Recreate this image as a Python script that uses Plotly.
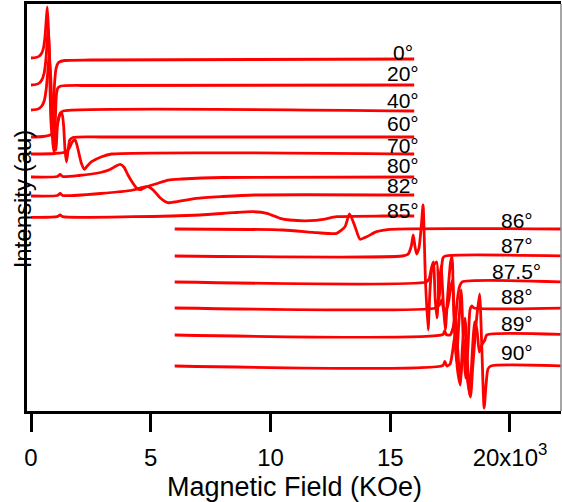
import plotly.graph_objects as go

# ---- data (field in units of 10^3 Oe, intensity in arbitrary units) ----
angles = ["0°", "20°", "40°", "60°", "70°", "80°", "82°", "85°",
          "86°", "87°", "87.5°", "88°", "89°", "90°"]

# vertical stacking offsets of each spectrum (au)
offsets = [352, 325.5, 300, 274, 257, 234, 215.5, 194.5,
           182, 155, 129, 103, 76.5, 45]

field_0 = [0, 0.2, 0.35, 0.45, 0.52, 0.58, 0.63, 0.68, 0.73, 0.78, 0.83, 0.88, 0.93, 0.98, 1.05, 1.15, 1.4, 2.5, 16]
sig_0 = [1, 1.5, 3, 6, 11, 21, 37, 52, 29, -16, -61, -78, -61, -26, -9, -3.5, -1.5, -1, 0]

field_20 = [0, 0.2, 0.35, 0.45, 0.55, 0.62, 0.68, 0.72, 0.77, 0.84, 0.92, 0.97, 1.01, 1.06, 1.12, 1.25, 2.5, 16]
sig_20 = [0.5, 1, 2.5, 5.5, 12.5, 25.5, 45.5, 57.5, 35.5, -24.5, -59.5, -66.5, -39.5, -9.5, -2.5, -0.5, 0, 0.5]

field_40 = [0, 0.3, 0.45, 0.55, 0.63, 0.7, 0.76, 0.82, 0.9, 0.98, 1.04, 1.09, 1.15, 1.22, 1.35, 16]
sig_40 = [1, 2, 5, 10, 21, 39, 56, 36, -9, -37, -39, -19, -7, -2, 0, 0]

field_60 = [0, 0.5, 0.8, 0.95, 1.1, 1.2, 1.29, 1.36, 1.42, 1.48, 1.54, 1.62, 1.75, 3, 16]
sig_60 = [0, 0.5, 2, 5, 13, 22, 24, 12, -13, -25, -15, -3, -0.5, 0, 0]

field_70 = [0, 1, 1.45, 1.6, 1.72, 1.84, 1.95, 2.1, 2.23, 2.35, 2.53, 2.95, 3.37, 16]
sig_70 = [0, 0.5, 2, 6, 12, 14.5, 6, -9, -15.3, -12, -7.7, -2.7, 0, 0]

field_80 = [0, 1.1, 1.22, 1.32, 2, 2.9, 3.3, 3.55, 3.72, 3.88, 4.05, 4.25, 4.45, 4.6, 4.8, 5.2, 5.73, 6.3, 8, 16]
sig_80 = [0, 0.5, 2.5, 0.5, 1.5, 4.5, 7.5, 11, 12.7, 10, 2, -6, -12, -12.5, -10, -7, -3, -2, -0.5, 0]

field_82 = [0, 1.1, 1.22, 1.32, 2.9, 4.26, 4.55, 4.89, 5.1, 5.4, 5.72, 6.0, 6.9, 8, 9.35, 16]
sig_82 = [-0.5, 0, 2, 0, 2, 5.5, 7.5, 8.8, 5.5, -2.5, -7.2, -6.5, -2.8, -1, 0.5, 0.5]

field_85 = [0, 1.1, 1.22, 1.32, 4.26, 7.06, 8.43, 9.27, 9.85, 10.4, 10.8, 11.65, 12.2, 12.76, 14.7, 16.0]
sig_85 = [-0.8, -0.2, 1.5, -0.2, -0.2, 1.5, 3.8, 4.8, 3.2, -1.8, -3.5, -4.2, -2.8, -0.2, 0.5, 0.5]

field_86 = [6.0, 10.52, 11.93, 12.76, 13.11, 13.3, 13.53, 13.74, 14.02, 14.43, 14.99, 22.2]
sig_86 = [0, -1, -3.7, -4.3, 2.3, 15, 2.3, -10.3, -7.7, -2.7, -0.3, 0]

field_87 = [6, 15.5, 15.75, 15.88, 15.96, 16.03, 16.1, 16.2, 16.3, 16.37, 16.47, 16.58, 16.66, 16.75, 16.94, 17.03, 17.12, 17.2, 17.3, 22.2]
sig_87 = [0, 0, 2, 10, 21, 10, 2, 8, 31, 51, -24, -74, -34, -12, -6, -44, -19, -2, 0, 0]

field_875 = [6, 16.5, 16.62, 16.72, 16.8, 16.88, 16.95, 17.03, 17.12, 17.22, 17.3, 17.4, 17.52, 17.58, 17.64, 17.7, 17.8, 17.9, 18.0, 22.2]
sig_875 = [0, 0, 3, 14, 20, -18, -36, -8, 16, -23, -48, -13, 20, 25, -18, -45, -18, -4, 0, 0]

field_88 = [6, 16.9, 17.05, 17.15, 17.25, 17.4, 17.52, 17.6, 17.68, 17.76, 17.86, 17.96, 18.05, 18.15, 18.25, 18.33, 18.4, 18.5, 22.2]
sig_88 = [0, 0, 3, 8, -4, 2, 20, 28, -22, -54, -17, 18, -32, -70, -37, -2, 2, 0, 0]

field_89 = [6, 17.2, 17.27, 17.34, 17.5, 17.62, 17.72, 17.82, 17.92, 18.02, 18.12, 18.22, 18.32, 18.42, 18.52, 18.62, 18.72, 18.82, 18.95, 19.03, 22.2]
sig_89 = [-0.5, 0, 3.5, 0, -0.5, 6.5, 19.5, -15.5, -50.5, -10.5, 16.5, -25.5, -60.5, -20.5, 12.5, 4.5, -17.5, -10.5, -5.5, -0.5, 0]

field_90 = [6, 17.2, 17.28, 17.36, 17.5, 17.6, 17.7, 17.8, 17.9, 18.0, 18.1, 18.2, 18.35, 18.45, 18.6, 18.73, 18.82, 18.92, 19.0, 19.08, 19.2, 22.2]
sig_90 = [0, 0.5, 4.5, 0, 2, 14, 31, -2, -17, 4, 26, -9, -31, 1, 46, 72, 21, -42, -19, -3, 0, 0]

fields = [field_0, field_20, field_40, field_60, field_70, field_80, field_82, field_85,
          field_86, field_87, field_875, field_88, field_89, field_90]
signals = [sig_0, sig_20, sig_40, sig_60, sig_70, sig_80, sig_82, sig_85,
           sig_86, sig_87, sig_875, sig_88, sig_89, sig_90]

x_ticks = [0, 5, 10, 15, 20]
x_ticktext = ["0", "5", "10", "15", "20x10<sup>3</sup>"]

# label anchor positions (layout)
label_x = [15.53] * 8 + [20.29] * 6
label_y = [358.3, 337.7, 311, 287.7, 266, 245.3, 225.3, 201,
           191, 166, 140, 114.3, 87.7, 58.3]

FONT = "Liberation Sans, Arial, sans-serif"

fig = go.Figure()
for name, f, s, off in zip(angles, fields, signals, offsets):
    fig.add_trace(go.Scatter(
        x=f, y=[off + v for v in s], mode="lines", name=name,
        line=dict(color="#ff0000", width=2.8, shape="spline", smoothing=0.6),
        showlegend=False, hoverinfo="skip"))

for name, lx, ly in zip(angles, label_x, label_y):
    fig.add_annotation(x=lx, y=ly, xref="x", yref="y", text=name, showarrow=False,
                       font=dict(family=FONT, size=21, color="black"),
                       xanchor="center", yanchor="middle")

# axis titles
fig.add_annotation(x=0.5, y=0, xref="paper", yref="paper", text="Magnetic Field (KOe)",
                   showarrow=False, xanchor="center", yanchor="middle", yshift=-76,
                   font=dict(family=FONT, size=27, color="black"))
fig.add_annotation(x=0, y=0.52, xref="paper", yref="paper", text="Intensity (au)",
                   showarrow=False, xanchor="center", yanchor="middle", xshift=-5,
                   textangle=-90, font=dict(family=FONT, size=24, color="black"))

# right frame (thin grey)
fig.add_shape(type="line", xref="paper", yref="paper", x0=1, x1=1, y0=0, y1=1,
              line=dict(color="#888888", width=1.5))

fig.update_layout(
    width=562, height=502,
    margin=dict(l=27, r=1, t=4, b=91),
    paper_bgcolor="white", plot_bgcolor="white",
    font=dict(family=FONT, color="black"),
    xaxis=dict(range=[-0.167, 22.13], tickvals=x_ticks, ticktext=x_ticktext,
               ticks="outside", ticklen=18, tickwidth=3, tickcolor="black",
               showline=True, linecolor="black", linewidth=2.5, mirror=True,
               showgrid=False, zeroline=False, ticklabelstandoff=5,
               tickfont=dict(family=FONT, size=24, color="black")),
    yaxis=dict(range=[0, 407], showticklabels=False, ticks="",
               showline=True, linecolor="black", linewidth=3,
               showgrid=False, zeroline=False),
)

fig.write_html("out.html")
